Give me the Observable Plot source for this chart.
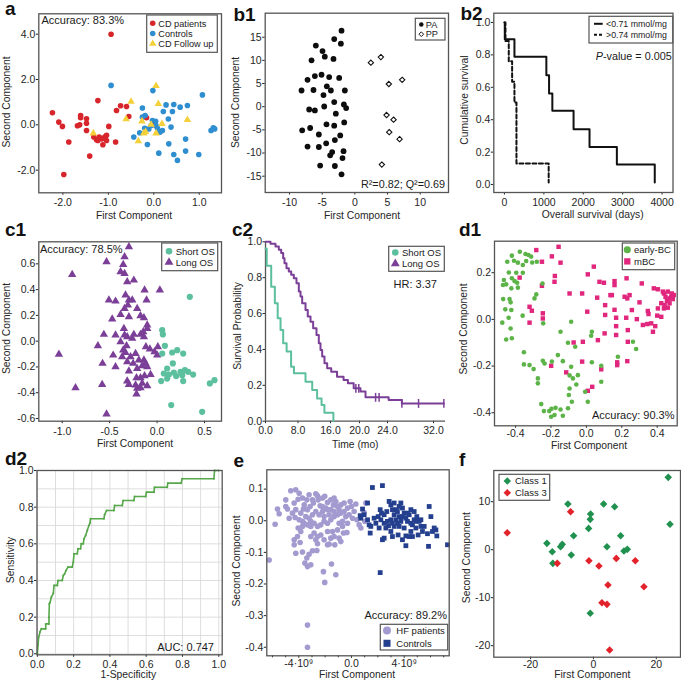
<!DOCTYPE html>
<html><head><meta charset="utf-8">
<script src="https://cdn.jsdelivr.net/npm/d3@7"></script>
<script src="https://cdn.jsdelivr.net/npm/@observablehq/plot@0.6"></script>
<style>
body{margin:0;background:#fff;}
#fig{position:relative;width:681px;height:684px;overflow:hidden;font-family:"Liberation Sans",Arial,Helvetica,sans-serif;}
.panel{position:absolute;}
#over{position:absolute;left:0;top:0;pointer-events:none;}
</style></head><body><div id="fig"></div><script>
// ---------------- DATA ----------------
// a
const aSeries = ["CD patients","Controls","CD Follow up"];
const aCDPatients = [[-0.94,4.0],[-2.23,0.53],[-2.09,0.12],[-2.01,-0.07],[-1.87,-0.76],[-1.98,-2.19],[-1.61,0.41],[-1.61,0.31],[-1.68,-0.04],[-1.63,0.0],[-1.48,0.27],[-1.48,0.07],[-1.48,-0.25],[-1.41,-1.38],[-1.23,1.07],[-1.32,-0.54],[-1.26,-0.66],[-1.2,-0.54],[-1.14,-0.62],[-1.08,-0.54],[-1.04,-0.46],[-1.23,-0.69],[-1.12,-0.88],[-1.04,-0.69],[-0.99,-0.07],[-0.84,-0.76],[-0.82,0.63],[-0.73,0.84],[-0.6,0.81],[-0.55,0.37],[-0.16,0.31],[0.02,0.0]];
const aControls = [[-0.94,1.74],[-0.02,1.51],[1.07,1.32],[-0.25,0.74],[0.27,0.88],[0.44,0.9],[0.21,0.59],[0.41,0.59],[0.58,0.78],[0.74,0.85],[-0.25,0.34],[-0.19,0.41],[-0.03,0.19],[0.04,0.16],[-0.06,-0.03],[0.05,-0.03],[-0.2,-0.15],[0.32,0.26],[0.38,-0.1],[-0.44,-0.54],[-0.31,-0.35],[-0.14,-0.87],[0.11,-1.25],[0.33,-0.84],[0.44,-1.31],[0.52,-1.57],[0.7,-1.16],[0.7,-0.63],[0.99,-1.31],[1.26,-0.25],[1.31,-0.13],[1.34,-0.18],[0.19,-0.25],[0.14,-0.32],[-0.11,-0.18],[0.08,-0.15]];
const aFollowUp = [[-0.5,1.03],[0.05,1.72],[0.1,0.93],[0.74,0.22],[-0.61,0.25],[-1.33,-0.37],[-0.26,0.16],[-0.34,-0.72],[-0.22,-0.37],[-0.18,-0.31],[0.05,-0.37],[0.18,0.04],[-0.06,0.01]];
const aAccuracy = "Accuracy: 83.3%";
// b1
const b1Series = ["PA","PP"];
const b1PA = [[-2.04,16.4],[-3.16,14.6],[-5.97,13.2],[-2.14,13.6],[-4.95,12.0],[-4.6,10.8],[-6.63,10.0],[-3.27,10.3],[-5.1,6.9],[-6.12,6.6],[-7.24,5.8],[-3.93,6.4],[-2.4,6.2],[-4.29,4.4],[-8.16,3.5],[-6.33,3.6],[-3.67,3.5],[-1.53,3.5],[-4.8,2.5],[-3.16,1.0],[-4.69,0.04],[-1.68,0.5],[-1.33,-0.3],[-6.99,-0.6],[-6.12,-0.8],[-2.91,-1.5],[-4.34,-3.8],[-3.16,-4.1],[-1.63,-3.4],[-6.84,-4.6],[-8.06,-5.1],[-5.51,-6.0],[-2.24,-6.2],[-3.06,-7.2],[-4.39,-7.9],[-7.24,-8.6],[-5.51,-8.7],[-3.47,-9.8],[-3.78,-10.5],[-1.73,-9.6],[-1.89,-11.1],[-5.31,-12.7],[-3.06,-12.8],[-2.04,-14.6]];
const b1PP = [[2.45,9.5],[3.98,10.7],[5.2,4.9],[7.24,5.8],[4.85,-1.8],[5.92,-2.8],[5.26,-5.5],[6.84,-7.0],[4.13,-12.5]];
const b1Stats = "R²=0.82; Q²=0.69";
// b2
const b2Series = ["<0.71 mmol/mg",">0.74 mmol/mg"];
const b2LowDays = [0,8,253,1063,1132,1215,1754,2159,2853,3815];
const b2LowSurv = [1.0,0.897,0.788,0.675,0.562,0.455,0.341,0.232,0.123,0.012];
const b2HighDays = [0,25,109,194,253,304,1122];
const b2HighSurv = [1.0,0.885,0.76,0.634,0.506,0.13,0.012];
const b2P = "-value = 0.005";
// c1
const cSeries = ["Short OS","Long OS"];
const c1Short = [[0.345,0.344],[0.054,0.085],[0.061,0.052],[0.082,-0.036],[0.159,-0.088],[0.212,-0.07],[0.275,-0.096],[0.054,-0.096],[0.166,-0.173],[0.106,-0.212],[0.071,-0.251],[0.124,-0.259],[0.043,-0.31],[0.106,-0.29],[0.201,-0.271],[0.247,-0.238],[0.265,-0.264],[0.293,-0.225],[0.328,-0.238],[0.38,-0.259],[0.275,-0.31],[0.556,-0.328],[0.605,-0.303],[0.149,-0.496],[0.475,-0.548],[0.177,-0.243]];
const c1Long = [[-0.297,0.732],[-0.343,0.654],[-0.357,0.595],[-0.343,0.525],[-0.385,0.538],[-0.315,0.46],[-0.245,0.473],[-0.533,0.616],[-0.895,0.517],[-0.132,0.396],[0.029,0.396],[-0.508,0.318],[-0.438,0.31],[-0.333,0.357],[-0.297,0.318],[-0.308,0.279],[-0.262,0.318],[-0.21,0.253],[-0.111,0.318],[-0.385,0.207],[-0.343,0.253],[-0.175,0.197],[-0.139,0.181],[-0.473,0.171],[-0.297,0.189],[-0.104,0.124],[-0.561,0.052],[-0.438,0.047],[-0.35,0.098],[-0.343,0.047],[-0.315,0.034],[-0.245,0.052],[-0.175,0.052],[-0.146,0.072],[-0.104,0.098],[-0.385,-0.005],[-0.322,-0.036],[-0.262,0.021],[-0.139,0.034],[-0.624,-0.036],[-0.357,-0.07],[-0.333,-0.088],[-0.227,-0.096],[-0.118,-0.044],[-0.076,-0.062],[-0.027,-0.083],[0.001,-0.109],[0.008,-0.044],[-1.035,-0.103],[-0.463,-0.109],[-0.368,-0.121],[-0.28,-0.121],[-0.192,-0.147],[-0.139,-0.147],[-0.122,-0.173],[-0.575,-0.173],[-0.438,-0.199],[-0.315,-0.16],[-0.252,-0.173],[-0.21,-0.212],[-0.157,-0.191],[-0.104,-0.199],[-0.069,-0.259],[-0.297,-0.233],[-0.217,-0.284],[-0.175,-0.284],[-0.132,-0.269],[-0.315,-0.31],[-0.297,-0.336],[-0.227,-0.341],[-0.21,-0.367],[-0.175,-0.362],[-0.157,-0.328],[-0.104,-0.346],[-0.579,-0.336],[-0.86,-0.362],[-0.217,-0.411],[-0.533,-0.566]];
const c1Accuracy = "Accuracy: 78.5%";
// c2
const c2ShortT = [0,0.3,1.4,2.3,3.0,3.7,4.35,5.2,6.3,7.0,9.85,11.5,12.7,13.8,14.5,16.4];
const c2ShortS = [0.963,0.866,0.75,0.657,0.574,0.509,0.434,0.388,0.304,0.267,0.22,0.174,0.127,0.09,0.047,0.0];
const c2LongT = [0,1.23,2.46,3.28,3.86,4.35,4.68,5.17,5.74,6.32,6.97,7.63,8.2,8.62,9.03,9.85,10.4,11.08,11.73,12.55,13.12,13.54,13.95,14.52,15.18,16.1,16.9,17.8,18.4,19.2,20.14,20.86,24.2,26.5,33.8];
const c2LongS = [1.0,0.989,0.974,0.955,0.937,0.909,0.881,0.853,0.834,0.816,0.797,0.769,0.723,0.695,0.657,0.62,0.583,0.555,0.518,0.481,0.434,0.397,0.36,0.323,0.295,0.276,0.248,0.23,0.211,0.183,0.165,0.133,0.118,0.099,0.099];
const c2CensorT = [19.5,19.9,22.3,22.8,26.5,29.4,33.8];
const c2CensorS = [0.183,0.183,0.133,0.133,0.099,0.099,0.099];
const c2TimeTicks = [0,8,16,20,24,32];
const c2HR = "HR: 3.37";
// d1
const d1Series = ["early-BC","mBC"];
const d1Early = [[-0.376,0.29],[-0.344,0.28],[-0.327,0.276],[-0.312,0.269],[-0.421,0.273],[-0.447,0.247],[-0.409,0.251],[-0.387,0.243],[-0.359,0.233],[-0.34,0.25],[-0.306,0.244],[-0.28,0.247],[-0.438,0.201],[-0.396,0.2],[-0.359,0.2],[-0.421,0.176],[-0.406,0.164],[-0.391,0.157],[-0.466,0.169],[-0.453,0.15],[-0.424,0.133],[-0.387,0.136],[-0.471,0.147],[-0.248,0.154],[-0.283,0.107],[-0.293,0.09],[-0.47,0.087],[-0.434,0.087],[-0.428,0.073],[-0.458,0.043],[-0.424,0.04],[-0.439,0.007],[-0.475,-0.014],[-0.36,0.016],[-0.428,-0.039],[-0.453,-0.086],[-0.421,-0.081],[-0.244,-0.017],[-0.086,-0.01],[-0.146,-0.053],[-0.353,-0.141],[-0.353,-0.193],[-0.321,-0.196],[-0.298,-0.213],[-0.246,-0.177],[-0.236,-0.189],[-0.274,-0.253],[-0.274,-0.274],[-0.255,-0.363],[-0.24,-0.393],[-0.21,-0.393],[-0.197,-0.383],[-0.174,-0.379],[-0.146,-0.386],[-0.133,-0.413],[-0.199,-0.417],[-0.18,-0.41],[-0.104,-0.1],[-0.063,-0.117],[-0.161,-0.153],[-0.133,-0.179],[-0.195,-0.181],[-0.086,-0.203],[-0.095,-0.24],[-0.076,-0.253],[-0.057,-0.279],[-0.048,-0.239],[-0.095,-0.296],[-0.099,-0.324],[-0.082,-0.353],[-0.104,-0.381],[-0.007,-0.31],[0.008,-0.353],[0.031,-0.053],[0.027,-0.07],[0.031,-0.184],[0.084,-0.199],[0.084,-0.267],[0.178,-0.16],[0.263,-0.096],[0.281,-0.127]];
const d1Metastatic = [[-0.283,0.297],[-0.157,0.311],[-0.146,0.243],[-0.195,0.27],[-0.251,0.247],[-0.251,0.144],[-0.18,0.161],[-0.178,0.186],[-0.377,0.179],[-0.095,0.111],[-0.321,0.054],[-0.308,0.037],[-0.246,0.026],[-0.246,0.004],[-0.321,-0.014],[0.008,0.193],[0.042,0.226],[-0.024,0.111],[0.074,0.161],[0.099,0.157],[0.159,0.164],[0.159,0.147],[0.227,0.176],[0.313,0.154],[0.381,0.133],[0.404,0.129],[0.432,0.119],[0.144,0.104],[0.061,0.093],[0.005,0.033],[0.106,0.061],[0.136,0.104],[0.159,0.041],[0.216,0.097],[0.231,0.09],[0.244,0.104],[0.3,0.073],[0.257,0.04],[0.285,0.001],[0.347,0.036],[0.351,0.023],[0.319,-0.024],[0.344,-0.02],[0.366,-0.017],[0.389,-0.029],[0.376,-0.053],[0.4,0.016],[0.423,0.011],[0.404,0.047],[0.423,0.069],[0.438,0.047],[0.46,0.05],[0.47,0.09],[0.479,0.097],[0.483,0.111],[0.46,0.083],[0.455,0.079],[0.442,0.061],[0.488,0.087],[0.494,0.104],[0.438,0.111],[0.46,0.119],[0.47,0.069],[0.447,0.097],[0.106,0.019],[0.168,0.007],[0.225,0.007],[0.168,-0.029],[0.168,-0.067],[0.234,-0.046],[0.234,-0.096],[0.174,-0.196],[0.174,-0.184],[0.231,-0.179],[0.084,-0.214],[0.033,-0.289],[0.008,-0.306],[-0.024,-0.181],[-0.114,-0.227],[-0.199,-0.199],[-0.02,-0.096],[0.065,-0.089],[0.103,-0.06],[-0.072,-0.099]];
const d1Accuracy = "Accuracy: 90.3%";
// d2
const d2Roc = [[0,0],[0.004,0.05],[0.007,0.09],[0.015,0.12],[0.022,0.136],[0.046,0.136],[0.046,0.163],[0.064,0.163],[0.064,0.2],[0.066,0.273],[0.07,0.28],[0.077,0.309],[0.088,0.33],[0.092,0.373],[0.11,0.373],[0.114,0.4],[0.137,0.4],[0.143,0.427],[0.15,0.435],[0.158,0.455],[0.169,0.473],[0.192,0.473],[0.198,0.5],[0.202,0.546],[0.22,0.546],[0.224,0.573],[0.238,0.573],[0.242,0.6],[0.253,0.6],[0.257,0.627],[0.266,0.645],[0.275,0.673],[0.284,0.7],[0.29,0.713],[0.293,0.737],[0.367,0.737],[0.371,0.76],[0.382,0.782],[0.422,0.782],[0.426,0.809],[0.468,0.809],[0.473,0.836],[0.532,0.836],[0.536,0.858],[0.597,0.858],[0.602,0.882],[0.643,0.882],[0.646,0.909],[0.716,0.909],[0.719,0.931],[0.793,0.931],[0.798,0.955],[0.973,0.955],[0.977,1.0],[1.0,1.0]];
const d2Auc = "AUC: 0.747";
// e  (first component in units of 10^9)
const eSeries = ["HF patients","Controls"];
const eHF = [[-6.25,-0.124],[-5.8,-0.011],[-5.62,0.037],[-5.49,0.022],[-4.99,0.066],[-4.61,0.095],[-4.23,0.098],[-3.97,0.087],[-3.34,-0.145],[-3.34,-0.33],[-3.34,-0.4],[-2.13,-0.161],[-2.03,-0.195],[-1.52,-0.137],[-1.19,-0.171],[-1.27,-0.076],[-4.35,-0.06],[-4.35,-0.076],[-4.23,-0.103],[-4.1,-0.05],[-3.9,-0.069],[-3.72,-0.099],[-3.54,-0.134],[-3.39,-0.118],[-3.22,-0.106],[-3.09,-0.139],[-2.96,-0.095],[-2.63,-0.094],[-2.58,-0.073],[-2.58,-0.05],[-2.08,-0.06],[-1.82,-0.076],[-1.7,-0.074],[-1.57,-0.055],[-1.32,-0.05],[-0.94,-0.055],[-0.81,-0.066],[-0.61,-0.039],[-0.35,-0.037],[-0.68,-0.018],[-4.99,0.045],[-4.86,0.037],[-4.35,0.056],[-4.23,0.035],[-4.05,0.068],[-3.72,0.072],[-3.59,0.05],[-3.39,0.066],[-3.85,0.024],[-3.34,0.035],[-3.14,0.045],[-2.89,0.056],[-2.71,0.085],[-2.58,0.079],[-2.53,0.066],[-2.38,0.047],[-2.2,0.072],[-2.03,0.077],[-1.82,0.058],[-1.57,0.066],[-1.37,0.05],[-1.19,0.061],[-0.94,0.035],[-0.81,0.05],[-0.56,0.056],[-0.3,0.04],[-0.1,0.061],[0.0,0.045],[0.2,0.029],[0.41,0.003],[0.58,-0.013],[0.71,-0.023],[1.01,-0.002],[0.96,0.026],[1.09,0.056],[0.33,0.053],[-0.43,0.013],[-0.68,-0.002],[-0.94,-0.008],[-1.32,0.013],[-1.57,0.003],[-1.82,-0.008],[-2.08,-0.002],[-2.33,-0.013],[-2.58,-0.018],[-2.84,-0.008],[-3.09,-0.018],[-3.34,-0.013],[-3.59,-0.008],[-3.72,-0.002],[-3.47,0.013],[-3.22,0.008],[-2.96,0.019],[-2.71,0.029],[-2.46,0.019],[-2.2,0.029],[-1.95,0.04],[-1.7,0.019],[-1.32,0.029],[-1.06,0.019],[-0.81,0.024],[-0.56,0.029],[-0.18,0.019],[0.08,0.008],[-0.3,-0.008],[-2.84,-0.039],[-2.33,-0.045],[-1.82,-0.034],[-1.44,-0.034],[-1.06,-0.029],[-4.05,-0.023],[-3.85,-0.034],[-3.72,-0.018],[-3.09,-0.05],[-2.71,-0.06],[-2.2,0.045],[-1.82,0.035],[-1.32,0.072],[-1.06,0.045],[-3.22,0.082],[-2.96,0.066],[-4.48,0.024],[-4.73,0.008],[-3.09,-0.002],[-2.08,0.013],[-1.57,0.035],[-3.65,0.037],[-3.97,0.003],[-4.28,0.01]];
const eControls = [[1.59,0.105],[2.35,0.111],[0.84,0.037],[0.66,0.016],[1.22,0.056],[1.34,-0.013],[1.42,-0.039],[1.72,0.008],[1.85,-0.008],[2.03,0.013],[2.23,0.003],[2.28,0.024],[2.18,0.035],[2.48,0.019],[2.68,0.029],[2.86,0.061],[2.99,0.05],[3.11,0.035],[3.24,0.019],[3.37,0.003],[3.49,0.029],[3.62,0.013],[3.75,0.056],[3.87,0.04],[4.0,0.024],[4.13,0.008],[4.25,-0.002],[4.38,0.019],[4.51,0.035],[4.63,-0.013],[4.76,0.003],[4.89,-0.023],[4.96,0.013],[5.14,-0.002],[5.27,-0.018],[5.39,-0.034],[5.52,-0.018],[5.77,-0.041],[5.9,0.045],[6.03,0.013],[6.15,-0.034],[6.28,-0.023],[6.41,-0.029],[6.48,-0.048],[5.85,-0.081],[7.29,-0.076],[4.13,-0.048],[3.87,-0.06],[4.13,-0.079],[4.38,-0.05],[4.63,-0.05],[3.54,-0.045],[3.11,-0.05],[2.48,-0.055],[2.35,-0.06],[2.81,-0.016],[2.61,-0.023],[2.99,-0.034],[3.24,-0.018],[3.62,-0.018],[4.0,-0.023],[1.22,0.003],[0.96,0.019],[0.71,0.008],[2.1,-0.023],[2.48,-0.008],[2.99,0.003],[3.24,0.056],[3.49,-0.008],[3.75,-0.002],[2.73,-0.002],[2.18,-0.164],[1.47,-0.018],[4.51,-0.034],[4.76,0.029],[5.06,-0.045],[3.37,0.035],[3.87,0.013],[4.25,0.024],[3.11,-0.008],[3.62,0.045],[4.51,-0.008],[4.89,-0.002],[5.27,0.003]];
const eAccuracy = "Accuracy: 89.2%";
// f
const fSeries = ["Class 1","Class 3"];
const fClass1 = [[23.8,15.07],[24.35,5.28],[-8.12,9.51],[3.24,9.51],[6.74,8.96],[-0.9,7.43],[-1.01,6.32],[-1.54,4.44],[-6.31,2.92],[8.65,2.92],[-14.8,1.32],[-9.92,1.11],[-10.45,0.63],[-13.1,-0.42],[4.3,0.63],[9.71,-0.28],[10.77,0.07],[-7.06,-1.11],[-12.9,-2.85],[-1.01,-13.26]];
const fClass3 = [[-27.43,3.54],[-7.27,7.92],[-11.51,-2.85],[-1.43,-2.29],[1.75,-3.4],[7.27,-1.81],[13.32,-2.29],[4.62,-7.36],[16.07,-7.71],[2.71,-11.04],[4.3,-11.39],[5.15,-20.9]];
const panelLetters = ["a","b1","b2","c1","c2","d1","d2","e","f"];

// ---------------- HELPERS ----------------
const FONT = '"Liberation Sans", Arial, Helvetica, sans-serif';
const fig = document.getElementById("fig");
const f1 = d => d.toFixed(1);
const pts = (arr, g) => arr.map(([x, y]) => ({x, y, g}));
const FR = Plot.frame({stroke: "#555", strokeWidth: 1.3});

function panel(col, row, opts) {
  const svg = Plot.plot(Object.assign({
    width: 227, height: 228,
    style: {fontFamily: FONT, fontSize: "10.5px", color: "#262626", background: "none", overflow: "visible"}
  }, opts));
  const div = document.createElement("div");
  div.className = "panel";
  div.style.left = (col * 227) + "px";
  div.style.top = (row * 228) + "px";
  div.appendChild(svg);
  fig.appendChild(div);
  return d3.select(svg);
}
function axes(xt, xf, yt, yf, xPad = 3.5) {
  return [
    Plot.axisX({ticks: xt, tickFormat: xf, tickSize: 2.5, tickPadding: xPad, label: null}),
    Plot.axisY({ticks: yt, tickFormat: yf, tickSize: 2.5, tickPadding: 1, label: null})
  ];
}
function labels(s, xl, xc, xb, yl, yc, yb) {
  s.append("text").attr("x", xc).attr("y", xb).attr("text-anchor", "middle")
    .attr("font-size", "10.3px").attr("fill", "#262626").text(xl);
  s.append("text").attr("transform", `translate(${yb},${yc}) rotate(-90)`).attr("text-anchor", "middle")
    .attr("font-size", "10.3px").attr("fill", "#262626").text(yl);
}
function note(s, txt, x, y, anchor = "start", fs = 11) {
  return s.append("text").attr("x", x).attr("y", y).attr("text-anchor", anchor)
    .attr("font-size", fs + "px").attr("fill", "#1a1a1a").text(txt);
}
function legend(s, box, rows, symX, txtX, items, fs = 9.5) {
  s.append("rect").attr("x", box[0]).attr("y", box[1]).attr("width", box[2]).attr("height", box[3])
    .attr("fill", "#fff").attr("stroke", "#555").attr("stroke-width", 1.2);
  items.forEach((it, i) => {
    const y = rows[i];
    if (it.line) {
      s.append("line").attr("x1", symX[0]).attr("x2", symX[1]).attr("y1", y).attr("y2", y)
        .attr("stroke", "#111").attr("stroke-width", 2).attr("stroke-dasharray", it.dash || null);
    } else {
      s.append("path").attr("transform", `translate(${symX},${y})`)
        .attr("d", d3.symbol(it.symbol, it.size)())
        .attr("fill", it.fill).attr("stroke", it.stroke || "none").attr("stroke-width", it.sw || 0);
    }
    s.append("text").attr("x", txtX).attr("y", y).attr("dy", "0.35em").attr("text-anchor", "start")
      .attr("font-size", fs + "px").attr("fill", "#1a1a1a").text(it.label);
  });
}

// ---------------- PANEL a ----------------
{
  const C = ["#d7262b", "#2f8ed0", "#f4d03a"];
  const s = panel(0, 0, {
    marginLeft: 38.3, marginRight: 6, marginTop: 13.3, marginBottom: 35.7,
    x: {domain: [-2.53, 1.49]}, y: {domain: [-3.0, 4.9]},
    marks: [
      ...axes([-2, -1, 0, 1], f1, [-2, 0, 2, 4], f1),
      Plot.dot(pts(aCDPatients, aSeries[0]), {x: "x", y: "y", r: 2.8, fill: C[0]}),
      Plot.dot(pts(aControls, aSeries[1]), {x: "x", y: "y", r: 2.8, fill: C[1]}),
      Plot.dot(pts(aFollowUp, aSeries[2]), {x: "x", y: "y", r: 2.8, symbol: "triangle", fill: C[2]}),
      FR
    ]
  });
  labels(s, "First Component", 134, 219, "Second Component", 102, 10);
  note(s, aAccuracy, 41.5, 24.3);
  legend(s, [146.7, 15, 70.6, 37.3], [23.3, 33.5, 43.7], 152.7, 158.3, [
    {label: aSeries[0], symbol: d3.symbolCircle, size: 24, fill: C[0]},
    {label: aSeries[1], symbol: d3.symbolCircle, size: 24, fill: C[1]},
    {label: aSeries[2], symbol: d3.symbolTriangle, size: 24, fill: C[2]}
  ], 9.2);
}
// ---------------- PANEL b1 ----------------
{
  const s = panel(1, 0, {
    marginLeft: 37.7, marginRight: 6, marginTop: 12.7, marginBottom: 36,
    x: {domain: [-13.72, 14.33]}, y: {domain: [-18.52, 20.18]},
    marks: [
      ...axes([-10, -5, 0, 5, 10], d => String(d), [-15, -10, -5, 0, 5, 10, 15], d => String(d)),
      Plot.dot(pts(b1PA, b1Series[0]), {x: "x", y: "y", r: 2.9, fill: "#0d0d0d"}),
      Plot.dot(pts(b1PP, b1Series[1]), {x: "x", y: "y", r: 2.4, symbol: "diamond2", fill: "#fff", stroke: "#111", strokeWidth: 1.1}),
      FR
    ]
  });
  labels(s, "First Component", 135, 218.5, "Second Component", 102.5, 11.5);
  note(s, b1Stats, 218, 187.5, "end", 10.8);
  legend(s, [188.3, 18.3, 29.7, 21.7], [24.5, 34.2], 194.3, 198.7, [
    {label: b1Series[0], symbol: d3.symbolCircle, size: 16, fill: "#111"},
    {label: b1Series[1], symbol: d3.symbolDiamond2, size: 14, fill: "#fff", stroke: "#111", sw: 1}
  ], 9.2);
}
// ---------------- PANEL b2 ----------------
{
  const low = b2LowDays.map((t, i) => ({t, s: b2LowSurv[i]}));
  const high = b2HighDays.map((t, i) => ({t, s: b2HighSurv[i]}));
  const s = panel(2, 0, {
    marginLeft: 39.3, marginRight: 8.5, marginTop: 12.7, marginBottom: 36,
    x: {domain: [-271, 4278]}, y: {domain: [-0.049, 1.057]},
    marks: [
      ...axes([0, 1000, 2000, 3000, 4000], d => String(d), [0, 0.2, 0.4, 0.6, 0.8, 1.0], f1),
      Plot.line(low, {x: "t", y: "s", curve: "step-after", stroke: "#111", strokeWidth: 2}),
      Plot.line(high, {x: "t", y: "s", curve: "step-after", stroke: "#111", strokeWidth: 2, strokeDasharray: "4,2.5"}),
      FR
    ]
  });
  labels(s, "Overall survival (days)", 138.7, 217.5, "Cumulative survival", 100, 14);
  const t = note(s, "", 217.7, 60.3, "end", 10.8);
  t.append("tspan").attr("font-style", "italic").text("P");
  t.append("tspan").text(b2P);
  legend(s, [135, 16.3, 83.7, 26.7], [23.8, 34.8], [140, 148.7], 152, [
    {label: b2Series[0], line: true},
    {label: b2Series[1], line: true, dash: "3,2"}
  ], 8.8);
}
// ---------------- PANEL c1 ----------------
{
  const C = ["#5cc09f", "#7b3f97"];
  const s = panel(0, 1, {
    marginLeft: 38.3, marginRight: 6, marginTop: 13.3, marginBottom: 35.3,
    x: {domain: [-1.247, 0.679]}, y: {domain: [-0.621, 0.771]},
    marks: [
      ...axes([-1, -0.5, 0, 0.5], f1, [-0.6, -0.4, -0.2, 0, 0.2, 0.4, 0.6], f1),
      Plot.dot(pts(c1Long, cSeries[1]), {x: "x", y: "y", r: 3.1, symbol: "triangle", fill: C[1]}),
      Plot.dot(pts(c1Short, cSeries[0]), {x: "x", y: "y", r: 3.1, fill: C[0]}),
      FR
    ]
  });
  labels(s, "First Component", 135, 219, "Second Component", 100.5, 10);
  note(s, c1Accuracy, 40, 24.5);
  legend(s, [161.7, 15, 56, 27.7], [23.3, 34.3], 169, 175.7, [
    {label: cSeries[0], symbol: d3.symbolCircle, size: 34, fill: C[0]},
    {label: cSeries[1], symbol: d3.symbolTriangle, size: 34, fill: C[1]}
  ], 9.5);
}
// ---------------- PANEL c2 ----------------
{
  const C = ["#5cc09f", "#7b3f97"];
  const shortOS = c2ShortT.map((t, i) => ({t, s: c2ShortS[i]}));
  const longOS = c2LongT.map((t, i) => ({t, s: c2LongS[i]}));
  const cens = c2CensorT.map((t, i) => ({t, s: c2CensorS[i]}));
  const vtick = {draw(ctx, size) { const h = Math.sqrt(size) / 1.4; ctx.moveTo(0, -h); ctx.lineTo(0, h); }};
  const s = panel(1, 1, {
    marginLeft: 38, marginRight: 9, marginTop: 13.3, marginBottom: 35.3,
    x: {type: "linear", domain: [0, 8, 16, 20, 24, 32, 36], range: [38, 70.5, 103, 132, 160, 206, 229]},
    y: {domain: [0, 1]},
    marks: [
      ...axes(c2TimeTicks, f1, [0, 0.2, 0.4, 0.6, 0.8, 1.0], f1, 2.5),
      Plot.ruleY([0], {stroke: "#555", strokeWidth: 1.3}),
      Plot.ruleX([0], {stroke: "#555", strokeWidth: 1.3}),
      Plot.line(longOS, {x: "t", y: "s", curve: "step-after", stroke: C[1], strokeWidth: 2}),
      Plot.dot(cens, {x: "t", y: "s", r: 3.5, symbol: vtick, stroke: C[1], strokeWidth: 1.5}),
      Plot.line(shortOS, {x: "t", y: "s", curve: "step-after", stroke: C[0], strokeWidth: 2})
    ]
  });
  labels(s, "Time (mo)", 128.3, 219.5, "Survival Probability", 98, 13.5);
  note(s, c2HR, 210, 59.5, "end");
  legend(s, [161.7, 18.3, 55.6, 25], [24.5, 35.7], 168.3, 175, [
    {label: cSeries[0], symbol: d3.symbolCircle, size: 34, fill: C[0]},
    {label: cSeries[1], symbol: d3.symbolTriangle, size: 34, fill: C[1]}
  ], 9.5);
}
// ---------------- PANEL d1 ----------------
{
  const C = ["#5cb347", "#e0267d"];
  const s = panel(2, 1, {
    marginLeft: 40, marginRight: 4.3, marginTop: 12.7, marginBottom: 30.7,
    x: {domain: [-0.519, 0.513]}, y: {domain: [-0.456, 0.335]},
    marks: [
      ...axes([-0.4, -0.2, 0, 0.2, 0.4], f1, [-0.4, -0.2, 0, 0.2], f1, 1.5),
      Plot.dot(pts(d1Metastatic, d1Series[1]), {x: "x", y: "y", r: 2.5, symbol: "square", fill: C[1]}),
      Plot.dot(pts(d1Early, d1Series[0]), {x: "x", y: "y", r: 2.3, fill: C[0]}),
      FR
    ]
  });
  labels(s, "First Component", 135, 221, "Second Component", 101, 13);
  note(s, d1Accuracy, 220.5, 191, "end");
  legend(s, [168.3, 15, 52.4, 26.7], [21.8, 33.4], 173.3, 180, [
    {label: d1Series[0], symbol: d3.symbolCircle, size: 40, fill: C[0]},
    {label: d1Series[1], symbol: d3.symbolSquare, size: 40, fill: C[1]}
  ], 9.5);
}
// ---------------- PANEL d2 ----------------
{
  const roc = d2Roc.map(([x, y]) => ({x, y}));
  const tenth = [0, 0.1, 0.2, 0.3, 0.4, 0.5, 0.6, 0.7, 0.8, 0.9, 1.0];
  const s = panel(0, 2, {
    marginLeft: 36.5, marginRight: 5.3, marginTop: 14, marginBottom: 29.7,
    x: {domain: [-0.002, 1.019]}, y: {domain: [-0.0055, 1.0]},
    marks: [
      Plot.ruleX(tenth, {stroke: "#d9d9d9", strokeWidth: 0.9}),
      Plot.ruleY(tenth, {stroke: "#d9d9d9", strokeWidth: 0.9}),
      ...axes([0, 0.2, 0.4, 0.6, 0.8, 1.0], f1, [0, 0.2, 0.4, 0.6, 0.8, 1.0], f1),
      Plot.line(roc, {x: "x", y: "y", stroke: "#57a84b", strokeWidth: 1.6}),
      Plot.dot(roc, {x: "x", y: "y", r: 1, fill: "#57a84b"}),
      FR
    ]
  });
  labels(s, "1-Specificity", 128.3, 222, "Sensitivity", 104, 13.5);
  note(s, d2Auc, 214, 195, "end");
}
// ---------------- PANEL e ----------------
{
  const C = ["#a39bd0", "#243f8e"];
  const efmt = d => d === 0 ? "0.0" : `${d}·10⁹`;
  const s = panel(1, 2, {
    marginLeft: 39.3, marginRight: 5.3, marginTop: 13.3, marginBottom: 28.7,
    x: {domain: [-6.43, 7.42]}, y: {domain: [-0.427, 0.161]},
    marks: [
      Plot.axisX({ticks: [-6, -5, -3, -2, -1, 1, 2, 3, 5, 6, 7], tickFormat: null, text: null, tickSize: 2, label: null}),
      ...axes([-4, 0, 4], efmt, [-0.4, -0.3, -0.2, -0.1, 0, 0.1], f1, 1),
      Plot.dot(pts(eHF, eSeries[0]), {x: "x", y: "y", r: 2.8, fill: C[0]}),
      Plot.dot(pts(eControls, eSeries[1]), {x: "x", y: "y", r: 2.7, symbol: "square", fill: C[1]}),
      FR
    ]
  });
  labels(s, "First Component", 130, 221.5, "Second Component", 105, 13);
  note(s, eAccuracy, 220, 163, "end");
  legend(s, [153.3, 168.3, 67.4, 25.7], [174.5, 187.3], 160, 169.3, [
    {label: eSeries[0], symbol: d3.symbolCircle, size: 50, fill: C[0]},
    {label: eSeries[1], symbol: d3.symbolSquare, size: 50, fill: C[1]}
  ], 9.5);
}
// ---------------- PANEL f ----------------
{
  const C = ["#219150", "#e2232c"];
  const s = panel(2, 2, {
    marginLeft: 39.3, marginRight: 1, marginTop: 14, marginBottom: 27.3,
    x: {domain: [-31.7, 27.7]}, y: {domain: [-22.4, 16.5]},
    marks: [
      ...axes([-20, 0, 20], d => String(d), [-20, -10, 0, 10], d => String(d), 0.5),
      Plot.dot(pts(fClass1, fSeries[0]), {x: "x", y: "y", r: 3.4, symbol: "diamond2", fill: C[0]}),
      Plot.dot(pts(fClass3, fSeries[1]), {x: "x", y: "y", r: 3.4, symbol: "diamond2", fill: C[1]}),
      FR
    ]
  });
  labels(s, "First Component", 138.3, 222, "Second Component", 101.7, 16);
  legend(s, [45, 18.3, 50.7, 26], [25, 36.7], 53.3, 61, [
    {label: fSeries[0], symbol: d3.symbolDiamond2, size: 36, fill: C[0]},
    {label: fSeries[1], symbol: d3.symbolDiamond2, size: 36, fill: C[1]}
  ], 9.5);
}
// ---------------- panel letters ----------------
{
  const pos = [[5, 15], [233.5, 20.5], [460.5, 19.5], [5, 236], [232, 236], [459, 236], [5, 465], [233.5, 467], [459, 466]];
  const o = d3.select(fig).append("svg").attr("id", "over").attr("width", 681).attr("height", 684);
  panelLetters.forEach((L, i) => {
    o.append("text").attr("x", pos[i][0]).attr("y", pos[i][1])
      .attr("font-family", FONT).attr("font-weight", "bold").attr("font-size", "19px").attr("fill", "#111").text(L);
  });
}
</script></body></html>
